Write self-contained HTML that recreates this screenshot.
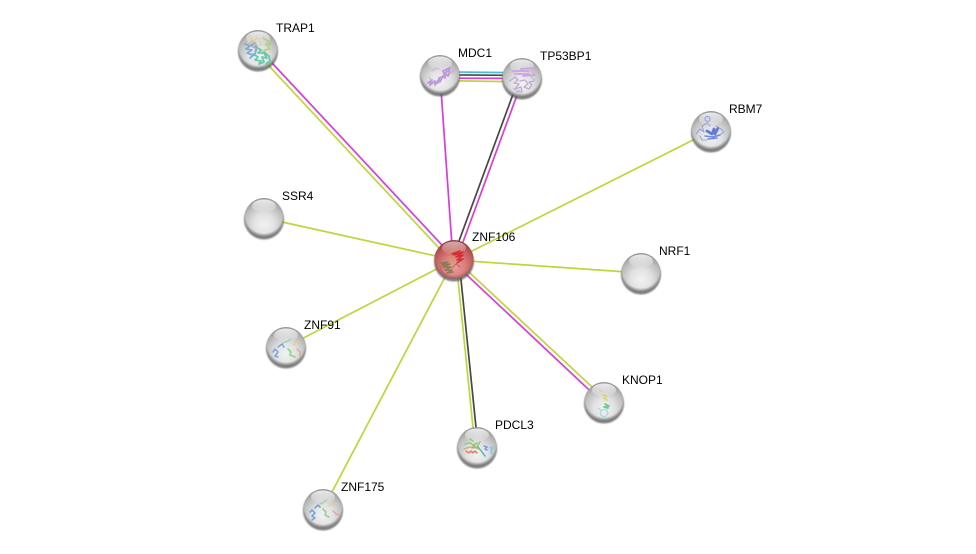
<!DOCTYPE html>
<html><head><meta charset="utf-8"><style>
html,body{margin:0;padding:0;background:#fff;width:976px;height:554px;overflow:hidden}
svg{display:block}
text{font-family:"Liberation Sans",sans-serif;font-size:12px;fill:#000;stroke:none}
.g{stroke:#bdd63a}.m{stroke:#d93cd9}.k{stroke:#474747}.c{stroke:#3fc1dc}
line{stroke-width:1.7;fill:none}
.p{fill:none;stroke-linejoin:round;stroke-linecap:round;filter:url(#pb);opacity:.85}
</style></head><body>
<svg width="976" height="554" viewBox="0 0 976 554" xmlns="http://www.w3.org/2000/svg" stroke-width="1.1">
<defs>
<radialGradient id="b" cx=".5" cy=".68" r=".68">
<stop offset="0" stop-color="#f2f2f2"/><stop offset=".4" stop-color="#e2e2e2"/><stop offset=".75" stop-color="#bdbdbd"/><stop offset="1" stop-color="#939393"/>
</radialGradient>
<radialGradient id="r" cx=".5" cy=".68" r=".68">
<stop offset="0" stop-color="#eaa0a0"/><stop offset=".4" stop-color="#dc8080"/><stop offset=".75" stop-color="#c05a5a"/><stop offset="1" stop-color="#8e3a3a"/>
</radialGradient>
<linearGradient id="h" x1="0" y1="0" x2="0" y2="1">
<stop offset="0" stop-color="#fff" stop-opacity=".8"/><stop offset="1" stop-color="#fff" stop-opacity=".05"/>
</linearGradient>
<radialGradient id="s" cx=".5" cy=".42" r=".6">
<stop offset=".8" stop-color="#444" stop-opacity="0"/><stop offset=".92" stop-color="#444" stop-opacity=".5"/><stop offset="1" stop-color="#333" stop-opacity=".85"/>
</radialGradient>
<filter id="bl" x="-30%" y="-30%" width="160%" height="160%"><feGaussianBlur stdDeviation=".7"/></filter>
<filter id="pb" x="-20%" y="-20%" width="140%" height="140%"><feGaussianBlur stdDeviation=".3"/></filter>
<g id="front">
<circle cy="-.5" r="19.500" fill="url(#s)"/>
<ellipse cx="0" cy="-12" rx="12" ry="6.500" fill="url(#h)"/>
</g>
<circle id="shadow" cx="0" cy="1.500" r="20" fill="#555" opacity=".75" filter="url(#bl)"/>
<g id="grey"><use href="#shadow"/><circle cy="-.5" r="19.500" fill="url(#b)"/></g>
<g id="red"><use href="#shadow"/><circle cy="-.5" r="19.500" fill="url(#r)"/></g>
</defs>

<!-- edges -->
<line class="g" x1="256" y1="52" x2="452" y2="262"/>
<line class="m" x1="259" y1="49" x2="455" y2="259"/>
<line class="m" x1="440" y1="75" x2="453" y2="260"/>
<line class="k" x1="519" y1="78" x2="452" y2="260"/>
<line class="m" x1="523" y1="79" x2="456" y2="261"/>
<line class="c" x1="440" y1="71.800" x2="522" y2="72.800"/>
<line class="k" x1="440" y1="74.800" x2="522" y2="75.400"/>
<line class="m" x1="440" y1="78.200" x2="522" y2="78.400"/>
<line class="g" x1="440" y1="80.600" x2="522" y2="81.800"/>
<line class="g" x1="711" y1="131" x2="454" y2="260"/>
<line class="g" x1="264" y1="218" x2="454" y2="260"/>
<line class="g" x1="641" y1="273" x2="454" y2="260"/>
<line class="g" x1="286" y1="347" x2="454" y2="260"/>
<line class="g" x1="323" y1="509" x2="454" y2="260"/>
<line class="g" x1="456" y1="260" x2="606" y2="400"/>
<line class="m" x1="453" y1="262" x2="603" y2="403"/>
<line class="g" x1="456" y1="260" x2="475" y2="447"/>
<line class="k" x1="459" y1="260" x2="478" y2="447"/>

<!-- TRAP1 -->
<g transform="translate(258,50)"><use href="#grey"/><use href="#front"/>
<path class="p" stroke="#e6cf8c" d="M-9-14l4 3-3 3 5-1 2-4 3 3 1 5-5 1"/>
<path class="p" stroke="#a4d070" stroke-width="1.400" d="M5-12l5 3 3 4-5-1 4 5-6 1 3 4-5-3"/>
<path class="p" stroke="#6fa5dc" stroke-width="1.800" d="M-13-6l5 2-4 3 6 1-5 3 6 2-3 3 5-4 1-6-5-3 4-2 2 5-2 6"/>
<path class="p" stroke="#52c6a0" stroke-width="1.800" d="M-5 4l5 3-3 3 6 1-2 3 5-2-2-5 5 1-3-5 5 3 1 5-4 3M-2-3l5 3-3 3 6 0"/>
<path class="p" stroke="#d9b09a" d="M-9-6l4-3 3 4-4 2 5 2"/>
</g>

<!-- MDC1 -->
<g transform="translate(440,75)"><use href="#grey"/><use href="#front"/>
<path class="p" stroke="#b48ad8" stroke-width="1.800" d="M-12 8l4-3-2 5 5-4 0 4 4-6 1 3 3-6 2 2 0-5 3 3 2-5-4 1 4-4-7 3 2 5-6 2-1 5-4-1"/>
<path class="p" stroke="#c9a9e2" d="M5-5l5 1 4-1-2 3-5-1M-8-4l4-3 3 1M-11 2l3 4"/>
</g>

<!-- TP53BP1 -->
<g transform="translate(522,78)"><use href="#grey"/><use href="#front"/>
<path class="p" stroke="#c89ae6" stroke-width="1.700" d="M-9-7h16M-7-4h14M-1-9l13-1M1-2l12-1"/>
<path class="p" stroke="#b9a0d2" stroke-width="1.300" d="M-12 3l5-4 3 3-4 3 5 1-4 5 6-2 1 5-5 0M-2 3l5-1 3 4-4 3 5 2 3-4-3-3 5-1"/>
<path class="p" stroke="#c4b4d4" d="M7-10l5 5-3 4 4 3M-9 10l3 3 4-1"/>
</g>

<!-- RBM7 -->
<g transform="translate(711,131)"><use href="#grey"/><use href="#front"/>
<path class="p" stroke="#4f66d8" stroke-width="2.800" d="M-4 0l5 3 2-5 1 5 3-6"/>
<path class="p" stroke="#5f76dc" stroke-width="1.600" d="M-6 5l8 1 7-2M-3 8l9-1"/>
<path class="p" stroke="#8d9be0" d="M-15 3l4-5 4 3-2-6 5-3 3 3M-11 5l2 4 5 0M5-5l5 3 3 3-3 2M-5-14a2.500 2.500 0 1 0 4 2 2.500 2.500 0 0 0-4-2"/>
</g>

<!-- SSR4 -->
<g transform="translate(264,218)"><use href="#grey"/><use href="#front"/></g>

<!-- ZNF106 -->
<g transform="translate(454,260)"><use href="#red"/><use href="#front" opacity=".7"/>
<path class="p" stroke="#d42020" stroke-width="1.500" d="M-2-6l8-3-6 4 9-3-7 5 7-2-6 5 6-1-6 4"/>
<path class="p" stroke="#b7b03c" d="M-5-3l3 4 2 4M-4-8l4-3"/>
<path class="p" stroke="#7d7a50" stroke-width="1.500" d="M-13 3l7-1-6 3 8-1-7 3 8 0-6 3 7 0-5 3 6-1"/>
<path class="p" stroke="#c0605a" d="M-14 6l2 6 5 4M-2 8l4-4 4 3"/>
</g>

<!-- NRF1 -->
<g transform="translate(641,273)"><use href="#grey"/><use href="#front"/></g>

<!-- ZNF91 -->
<g transform="translate(286,347)"><use href="#grey"/><use href="#front"/>
<path class="p" stroke="#6a9ade" stroke-width="1.500" d="M-13 5l2-3 3 3-3 4 3 1M-8 0l4-3 2 3"/>
<path class="p" stroke="#8ed0a0" stroke-width="1.300" d="M-3-4l5-2 3-2"/>
<path class="p" stroke="#7fd080" stroke-width="1.600" d="M2 2l3 3-1 3 5 2"/>
<path class="p" stroke="#e8d070" stroke-width="1.300" d="M7-2l4-3 3 1"/>
<path class="p" stroke="#e49a8c" stroke-width="1.300" d="M11 2l3 3 0 4"/>
</g>

<!-- KNOP1 -->
<g transform="translate(604,402)"><use href="#grey"/><use href="#front"/>
<path class="p" stroke="#e9b9b0" d="M-5-12l3 1"/>
<path class="p" stroke="#d7d95a" stroke-width="1.800" d="M-1-7l4 1-3 2 3 2"/>
<path class="p" stroke="#58c884" stroke-width="1.800" d="M1 2l4 2-5 1 4 1"/>
<path class="p" stroke="#9fd4e6" d="M-6 6l4 3M-3 9a3.500 3.500 0 1 0 6 4 3.500 3.500 0 0 0-6-4M3 8l1 3"/>
</g>

<!-- PDCL3 -->
<g transform="translate(477,447)"><use href="#grey"/><use href="#front"/>
<path class="p" stroke="#86c870" stroke-width="1.600" d="M-12-3l5-1 3 2 4-2-5 5 5-1 3-5M-7-8l3 2"/>
<path class="p" stroke="#e0705c" stroke-width="1.600" d="M-11 4l3 2 2-2 2 2 2-2 2 2"/>
<path class="p" stroke="#d4a060" stroke-width="1.300" d="M-13 2l6-2 6 1M-4-1l5 3"/>
<path class="p" stroke="#40b8a8" stroke-width="1.600" d="M1 0l4 5 3 4"/>
<path class="p" stroke="#7d8de0" stroke-width="1.600" d="M7-1l3 1-2 2 2 1"/>
<path class="p" stroke="#78c8e8" stroke-width="1.600" d="M13 1l3-1-2 4 1 3"/>
</g>

<!-- ZNF175 -->
<g transform="translate(323,509)"><use href="#grey"/><use href="#front"/>
<path class="p" stroke="#5a92e0" stroke-width="1.500" d="M-13 3l2-2 3 3-3 3 3 2-3 2M-8-1l3-3 2 2"/>
<path class="p" stroke="#8ed0a0" stroke-width="1.300" d="M-3-5l4-2 3-2"/>
<path class="p" stroke="#7fd080" stroke-width="1.600" d="M0 0l3 3-1 3 4 2"/>
<path class="p" stroke="#e8d070" stroke-width="1.300" d="M6-3l4-3 4 1"/>
<path class="p" stroke="#e49a8c" stroke-width="1.300" d="M10 2l3 3 3 1"/>
</g>

<!-- labels -->
<text x="276" y="32">TRAP1</text>
<text x="458" y="57">MDC1</text>
<text x="540" y="60">TP53BP1</text>
<text x="729" y="113">RBM7</text>
<text x="282" y="200">SSR4</text>
<text x="472" y="241">ZNF106</text>
<text x="659" y="255">NRF1</text>
<text x="304" y="329">ZNF91</text>
<text x="622" y="384">KNOP1</text>
<text x="495" y="429">PDCL3</text>
<text x="341" y="491">ZNF175</text>
</svg>
</body></html>
